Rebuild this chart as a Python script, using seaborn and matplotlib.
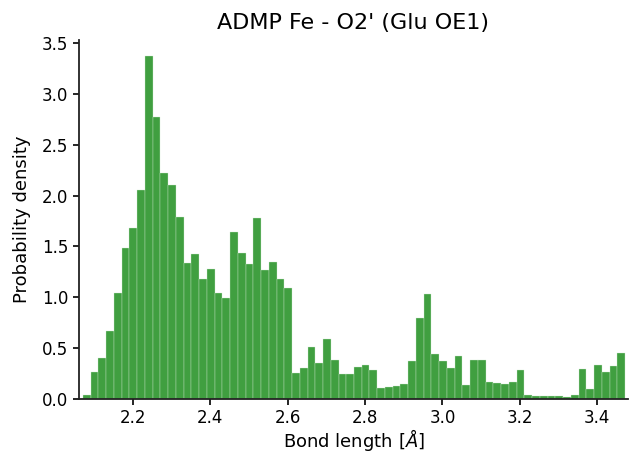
import numpy as np
import pandas as pd
import matplotlib
matplotlib.use("Agg")
import matplotlib.pyplot as plt
import seaborn as sns

# histogram bins (bond length, Angstrom) and probability density per bin
bin_start = 2.071
bin_end = 3.472
n_bins = 70
density = [
    0.042, 0.265, 0.406, 0.672, 1.042, 1.485, 1.678, 2.058, 3.370, 2.773,
    2.222, 2.107, 1.793, 1.334, 1.429, 1.180, 1.275, 1.039, 0.990, 1.645,
    1.432, 1.331, 1.778, 1.267, 1.352, 1.184, 1.090, 0.259, 0.308, 0.511,
    0.351, 0.590, 0.380, 0.246, 0.249, 0.317, 0.336, 0.289, 0.105, 0.118,
    0.125, 0.144, 0.377, 0.800, 1.036, 0.443, 0.377, 0.305, 0.423, 0.138,
    0.387, 0.387, 0.164, 0.154, 0.151, 0.167, 0.289, 0.036, 0.033, 0.026,
    0.026, 0.026, 0.023, 0.039, 0.300, 0.095, 0.338, 0.266, 0.321, 0.449,
]

edges = np.linspace(bin_start, bin_end, n_bins + 1)
centers = (edges[:-1] + edges[1:]) / 2
df = pd.DataFrame({"bond": centers, "density": density})

sns.set_theme(style="ticks")
plt.rcParams['font.family'] = ['DejaVu Sans']
plt.rcParams['text.color'] = 'black'
plt.rcParams['axes.labelcolor'] = 'black'
plt.rcParams['xtick.color'] = 'black'
plt.rcParams['ytick.color'] = 'black'

fig = plt.figure(figsize=(6.3, 4.54), dpi=100)
ax = fig.add_axes([0.125, 0.121, 0.872, 0.791])

sns.histplot(
    data=df, x="bond", weights="density", bins=n_bins,
    binrange=(bin_start, bin_end), stat="count",
    color="#409f40", alpha=1.0, edgecolor="#cfe8cf", linewidth=0.25, ax=ax
)

ax.set_xlim(2.06, 3.48)
ax.set_ylim(0, 3.53)
ax.set_xticks([2.2, 2.4, 2.6, 2.8, 3.0, 3.2, 3.4])
ax.set_yticks(np.arange(0, 3.51, 0.5))
ax.tick_params(labelsize=12, width=1.2, length=4, colors="black")
for s in ["left", "bottom"]:
    ax.spines[s].set_linewidth(1.3)
    ax.spines[s].set_color("#222222")
sns.despine(ax=ax)

ax.set_title("ADMP Fe - O2' (Glu OE1)", fontsize=16, pad=8)
ax.set_xlabel(r"Bond length [$\AA$]", fontsize=13, labelpad=0)
ax.set_ylabel("Probability density", fontsize=13, labelpad=8)

fig.savefig("out.png", dpi=100)
